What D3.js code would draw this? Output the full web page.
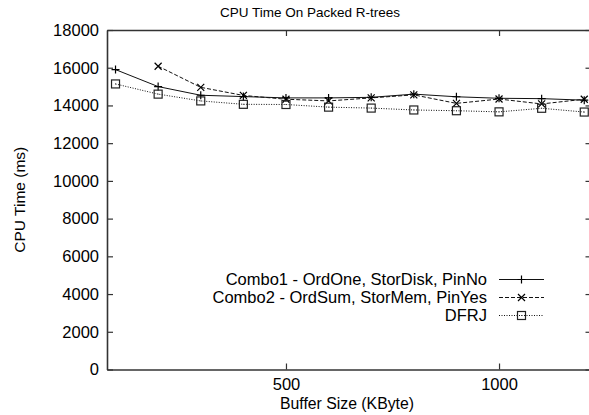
<!DOCTYPE html>
<html>
<head>
<meta charset="utf-8">
<script src="https://cdn.jsdelivr.net/npm/d3@7"></script>
<style>
  body { margin: 0; background: #fff; }
  svg text { font-family: "Liberation Sans", Arial, sans-serif; fill: #000; }
</style>
</head>
<body>
<div id="chart"></div>
<script>
// data
const bufferSizes = [100, 200, 300, 400, 500, 600, 700, 800, 900, 1000, 1100, 1200];
const combo1 = [15900, 15000, 14540, 14470, 14400, 14400, 14430, 14600, 14460, 14380, 14360, 14280];
const combo2 = [null, 16080, 14960, 14530, 14330, 14240, 14400, 14560, 14110, 14340, 14080, 14330];
const dfrj = [15140, 14600, 14240, 14060, 14050, 13910, 13860, 13760, 13720, 13660, 13850, 13650];
const seriesNames = ["Combo1 - OrdOne, StorDisk, PinNo", "Combo2 - OrdSum, StorMem, PinYes", "DFRJ"];
const xTicks = [500, 1000];
const yTicks = [0, 2000, 4000, 6000, 8000, 10000, 12000, 14000, 16000, 18000];

const W = 589, H = 415;
const margin = { top: 30, right: 0, bottom: 45.5, left: 107 };
const width = 484.5;
const height = H - margin.top - margin.bottom;

const svg = d3.select("#chart").append("svg")
    .attr("width", W)
    .attr("height", H);

const g = svg.append("g")
    .attr("transform", "translate(" + margin.left + "," + margin.top + ")");

// scales
const x = d3.scaleLinear().domain([80, 1217]).range([0, width]);
const y = d3.scaleLinear().domain([0, 18000]).range([height, 0]);

const axisColor = "#333";
const fmt = d3.format("d");

// axes, ticks pointing inwards like gnuplot
const xAxis = g.append("g")
    .attr("transform", `translate(0, ${height})`)
    .call(d3.axisBottom(x).tickValues(xTicks).tickSize(-6).tickSizeOuter(0).tickPadding(9).tickFormat(fmt));
const xTop = g.append("g")
    .call(d3.axisTop(x).tickValues(xTicks).tickSize(-6).tickSizeOuter(0).tickFormat(""));
const yAxis = g.append("g")
    .call(d3.axisLeft(y).tickValues(yTicks).tickSize(-6).tickSizeOuter(0).tickPadding(8).tickFormat(fmt));
const yRight = g.append("g")
    .attr("transform", `translate(${width}, 0)`)
    .call(d3.axisRight(y).tickValues(yTicks).tickSize(-6).tickSizeOuter(0).tickFormat(""));

[xAxis, xTop, yAxis, yRight].forEach(a => {
    a.select(".domain").attr("stroke", axisColor).attr("stroke-width", 1.6);
    a.selectAll(".tick line").attr("stroke", axisColor).attr("stroke-width", 1.2);
    a.selectAll(".tick text").style("font-size", "16.5px");
});

// titles
svg.append("text")
    .attr("x", 310).attr("y", 17)
    .attr("text-anchor", "middle")
    .style("font-size", "13.5px")
    .text("CPU Time On Packed R-trees");

svg.append("text")
    .attr("x", 347).attr("y", 409)
    .attr("text-anchor", "middle")
    .style("font-size", "15.8px")
    .text("Buffer Size (KByte)");

svg.append("text")
    .attr("transform", `translate(25, ${margin.top + height / 2}) rotate(-90)`)
    .attr("text-anchor", "middle")
    .style("font-size", "15.5px")
    .text("CPU Time (ms)");

// series
const series = [
    { name: seriesNames[0], values: combo1, dash: null, marker: "plus" },
    { name: seriesNames[1], values: combo2, dash: "4,2", marker: "cross" },
    { name: seriesNames[2], values: dfrj, dash: "1,1.5", marker: "square" }
];

const line = d3.line()
    .defined(d => d.v != null)
    .x(d => x(d.x))
    .y(d => y(d.v));

function drawMarker(sel, type, cx, cy) {
    if (type === "plus") {
        sel.append("path")
            .attr("d", `M${cx - 4},${cy}H${cx + 4}M${cx},${cy - 4}V${cy + 4}`)
            .attr("stroke", "#000").attr("stroke-width", 1.2).attr("fill", "none");
    } else if (type === "cross") {
        sel.append("path")
            .attr("d", `M${cx - 3.5},${cy - 3.5}L${cx + 3.5},${cy + 3.5}M${cx - 3.5},${cy + 3.5}L${cx + 3.5},${cy - 3.5}`)
            .attr("stroke", "#000").attr("stroke-width", 1.2).attr("fill", "none");
    } else {
        sel.append("rect")
            .attr("x", cx - 4).attr("y", cy - 4)
            .attr("width", 8).attr("height", 8)
            .attr("stroke", "#222").attr("stroke-width", 1.2).attr("fill", "none");
        sel.append("rect")
            .attr("x", cx - 0.5).attr("y", cy - 0.5)
            .attr("width", 1).attr("height", 1)
            .attr("fill", "#444");
    }
}

series.forEach(s => {
    const pts = bufferSizes.map((b, i) => ({ x: b, v: s.values[i] }));
    g.append("path")
        .datum(pts)
        .attr("d", line)
        .attr("fill", "none")
        .attr("stroke", "#111")
        .attr("stroke-width", 1)
        .attr("stroke-dasharray", s.dash);
    const mg = g.append("g");
    pts.filter(d => d.v != null).forEach(d => drawMarker(mg, s.marker, x(d.x), y(d.v)));
});

// legend
const legend = svg.append("g");
series.forEach((s, i) => {
    const ly = 279.5 + i * 18;
    legend.append("text")
        .attr("x", 487).attr("y", ly)
        .attr("dy", "0.35em")
        .attr("text-anchor", "end")
        .style("font-size", "16.5px")
        .text(s.name);
    legend.append("line")
        .attr("x1", 499).attr("x2", 544)
        .attr("y1", ly).attr("y2", ly)
        .attr("stroke", "#111").attr("stroke-width", 1)
        .attr("stroke-dasharray", s.dash);
    drawMarker(legend, s.marker, 521.5, ly);
});
</script>
</body>
</html>
